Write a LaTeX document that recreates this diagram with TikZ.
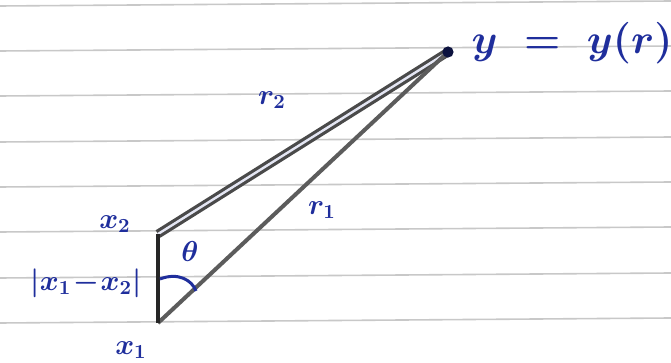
\documentclass[tikz,border=0pt]{standalone}
\usetikzlibrary{positioning,calc}
\definecolor{Ink}{HTML}{1F2E9C}
\definecolor{Pencil}{HTML}{5C5C5C}
\definecolor{Rule}{HTML}{C8C8C8}

\begin{document}
\begin{tikzpicture}[x=0.5pt,y=-0.5pt,
  inklab/.style={text=Ink,inner sep=1pt,font=\Large\boldmath},
  leg/.style={line width=2pt}]
\useasboundingbox (0,0) rectangle (671,363);
\fill[white] (0,0) rectangle (671,363);
\foreach \y in {6,51,96,142,187,232,278,323} {\draw[Rule,line width=0.8pt] (0,\y) -- (671,\y-5);}
\coordinate (X1) at (158,323);
\coordinate (X2) at (158,234);
\coordinate (Y) at (448,52);
\draw[Pencil!80!black,line width=1.6pt,double=Ink!12,double distance=1.2pt] (X2) -- (Y);
\draw[Pencil,leg] (X1) -- (Y);
\draw[black!85,leg] (X2) -- (X1);
\fill[Ink!40!black] (Y) circle (2.8pt);
\coordinate (arcA) at (160,279);
\coordinate (arcB) at (196,291);
\draw[Ink,line width=1.5pt] (arcA) .. controls (178,272) and (192,280) .. (arcB);
\node[inklab,font=\huge\boldmath] (ylab) at (572,43) {$y \;=\; y(r)$};
\node[inklab] (r2) at (272,100) {$r_2$};
\node[inklab] (r1) at (322,210) {$r_1$};
\node[inklab] (x2) at (115,224) {$x_2$};
\node[inklab] (th) at (190,252) {$\theta$};
\node[inklab] (dx) at (86,283) {$|x_1 \!-\! x_2|$};
\node[inklab] (x1) at (131,350) {$x_1$};
\end{tikzpicture}
\end{document}
